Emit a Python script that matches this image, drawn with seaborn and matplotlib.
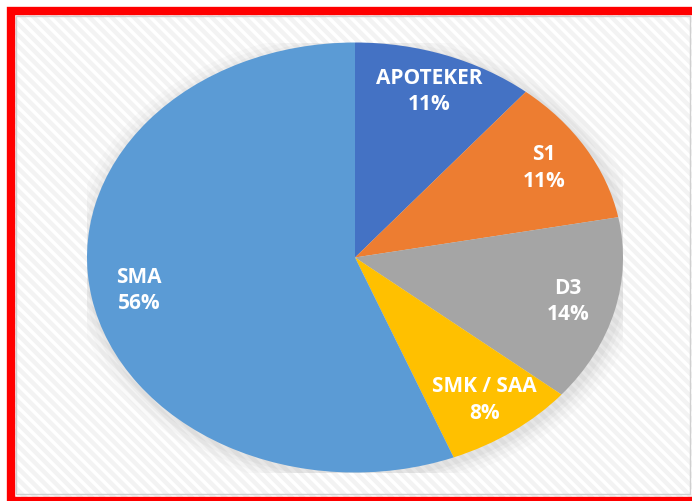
import matplotlib
matplotlib.use('Agg')
import matplotlib.pyplot as plt
import seaborn as sns
from matplotlib.patches import Rectangle, Ellipse

# %%Data
categories = ['APOTEKER', 'S1', 'D3', 'SMK / SAA', 'SMA']
percent = [11, 11, 14, 8, 56]
colors = ['#4472C4', '#ED7D31', '#A5A5A5', '#FFC000', '#5B9BD5']

# %%Plot
sns.set_theme(style='white')
plt.rcParams['font.family'] = ['Open Sans', 'DejaVu Sans']
plt.rcParams['hatch.linewidth'] = 2.5

W, H = 692, 501
fig = plt.figure(figsize=(W / 100, H / 100), dpi=100)
fig.patch.set_facecolor('white')

# chart area background: light gray with white diagonal stripes
fig.patches.append(Rectangle((15 / W, -10 / H), 677 / W, (486 + 10) / H,
                             transform=fig.transFigure, facecolor='#f3f3f3',
                             edgecolor='white', hatch='\\\\\\', lw=0, zorder=-3))
fig.patches.append(Rectangle((16 / W, 7 / H), 674 / W, 478 / H,
                             transform=fig.transFigure, facecolor='none',
                             edgecolor='#d0d0d0', lw=1, zorder=-2))
# red frame
fig.patches.append(Rectangle((11 / W, 0), 700 / W, 490 / H,
                             transform=fig.transFigure, facecolor='none',
                             edgecolor='#ff0000', lw=6, zorder=5))

ax = fig.add_axes([(355 - 268) / W, 28.5 / H, 536 / W, 430 / H])
ax.set_zorder(1)
ax.patch.set_alpha(0)

# soft shadow behind the pie
for s, a in [(1.07, 0.03), (1.05, 0.04), (1.03, 0.05), (1.015, 0.06)]:
    ax.add_patch(Ellipse((0.01, -0.015), 2 * s, 2 * s, facecolor='#777777',
                         alpha=a, lw=0, zorder=0))

labels = [f'{c}\n{p}%' for c, p in zip(categories, percent)]
wedges, texts = ax.pie(percent, labels=labels, colors=colors, startangle=90,
                       counterclock=False, labeldistance=0.82,
                       wedgeprops=dict(linewidth=0),
                       textprops=dict(color='white', fontsize=15,
                                      fontweight='bold', linespacing=1.35))
for t in texts:
    t.set_ha('center')
    t.set_va('center')
    t.set_multialignment('center')

ax.set_aspect('auto')
ax.set_xlim(-1, 1)
ax.set_ylim(-1, 1)
ax.axis('off')

plt.savefig('out.png', dpi=100)
